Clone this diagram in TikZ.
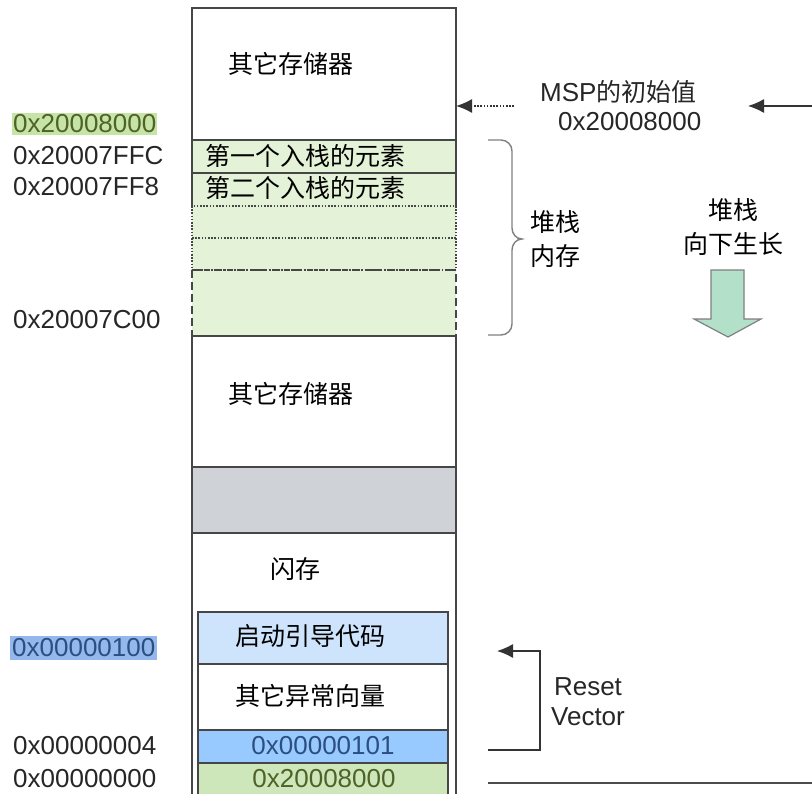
\documentclass[tikz,border=0pt]{standalone}
\usepackage{fontspec}
\setmainfont{Liberation Sans}
\newfontfamily\cjk{Noto Sans CJK SC}
\usetikzlibrary{positioning,arrows.meta}
\definecolor{stackgreen}{RGB}{228,242,215}
\definecolor{valgreen}{RGB}{206,231,186}
\definecolor{markgreen}{RGB}{198,228,166}
\definecolor{bootblue}{RGB}{205,228,252}
\definecolor{vecblue}{RGB}{153,202,255}
\definecolor{markblue}{RGB}{148,184,236}
\definecolor{gapgray}{RGB}{207,211,215}
\definecolor{growgreen}{RGB}{179,224,200}
\definecolor{lineg}{RGB}{70,70,70}
\definecolor{olive}{RGB}{79,98,40}
\definecolor{navy}{RGB}{43,79,128}
\tikzset{
  cell/.style={draw=lineg, line width=1.2pt, inner sep=0pt, outer sep=0pt, anchor=north west},
  stackcell/.style={fill=stackgreen, inner sep=0pt, outer sep=0pt, anchor=north west, minimum width=264pt},
  txt/.style={font=\fontsize{25}{34}\selectfont\cjk, inner sep=0pt, anchor=west},
  addr/.style={font=\fontsize{26}{30}\selectfont, inner sep=0pt, anchor=west, text=black!85},
  edgeline/.style={draw=lineg, line width=1.2pt},
  dots/.style={dash pattern=on 1.6pt off 1.6pt},
  tip/.style={-{Latex[length=16pt,width=14pt]}},
}
\begin{document}
\begin{tikzpicture}[x=1pt,y=-1pt]
\useasboundingbox (0,0) rectangle (812,794);
% memory column
\node[cell, minimum width=264pt, minimum height=132pt] (ram) at (192,8) {};
\node[stackcell, minimum height=33pt] (e1) at (192,140) {};
\node[stackcell, minimum height=33pt] (e2) at (192,173) {};
\node[stackcell, minimum height=32pt] (e3) at (192,206) {};
\node[stackcell, minimum height=32pt] (e4) at (192,238) {};
\node[stackcell, minimum height=66pt] (e5) at (192,270) {};
\draw[edgeline] (e2.south west) -- (e1.north west) -- (e1.north east) -- (e2.south east);
\draw[edgeline] (e1.south west) -- (e1.south east);
\draw[edgeline, dots] (e3.north west) rectangle (e4.south east);
\draw[edgeline, dots] (e3.south west) -- (e3.south east);
\draw[edgeline, line width=1.5pt, dash pattern=on 6pt off 2pt on 1.5pt off 2pt] (e5.north west) -- (e5.north east);
\draw[edgeline, line width=1.5pt, dash pattern=on 8pt off 4pt] (e5.north west) -- (e5.south west) -- (e5.south east) -- (e5.north east);
\node[cell, minimum width=264pt, minimum height=131pt] (ram2) at (192,336) {};
\node[cell, fill=gapgray, minimum width=264pt, minimum height=66pt] (gap) at (192,467) {};
\node[cell, minimum width=264pt, minimum height=300pt] (flash) at (192,533) {};
\node[cell, fill=bootblue, minimum width=250pt, minimum height=52pt] (boot) at (198,612) {};
\node[cell, minimum width=250pt, minimum height=66pt] (vect) at (198,664) {};
\node[cell, fill=vecblue, minimum width=250pt, minimum height=33pt] (rst) at (198,730) {};
\node[cell, fill=valgreen, minimum width=250pt, minimum height=60pt] (msp0) at (198,763) {};
% texts in the column
\node[txt] (ramtxt) at (228,64) {其它存储器};
\node[txt] (e1txt) at (205,156) {第一个入栈的元素};
\node[txt] (e2txt) at (205,188) {第二个入栈的元素};
\node[txt] (ram2txt) at (228,394) {其它存储器};
\node[txt] (flashtxt) at (270,569) {闪存};
\node[txt] (boottxt) at (235,636) {启动引导代码};
\node[txt] (vecttxt) at (235,696) {其它异常向量};
\node[addr, anchor=center, text=navy] (rsttxt) at (323,746) {0x00000101};
\node[addr, anchor=center, text=olive] (msp0txt) at (324,779) {0x20008000};
% addresses
\node[addr, fill=markgreen, text=olive, inner xsep=1pt, inner ysep=2pt] (a1) at (12,124) {0x20008000};
\node[addr] (a2) at (13,156) {0x20007FFC};
\node[addr] (a3) at (13,187) {0x20007FF8};
\node[addr] (a4) at (13,320) {0x20007C00};
\node[addr, fill=markblue, text=navy, inner xsep=2pt, inner ysep=3pt] (a5) at (10,648) {0x00000100};
\node[addr] (a6) at (13,746) {0x00000004};
\node[addr] (a7) at (13,779) {0x00000000};
% initial MSP
\node[addr] (msptxt) at (540,92) {MSP{\cjk\fontsize{25}{30}\selectfont 的初始值}};
\node[addr] (mspval) at (558,122) {0x20008000};
\coordinate (mspin) at (514,106);
\draw[tip, line width=1.3pt, dots, black!80] (mspin) -- (ram.east |- mspin);
\coordinate (mspfrom) at (812,106);
\coordinate (mspto) at (748,106);
\draw[tip, line width=1.2pt, black!80] (mspfrom) -- (mspto);
% stack
\draw[line width=1.4pt, gray] (488,140) -- (501,140) to[out=0,in=90] (512,151) -- (512,228)
  to[out=-90,in=180] (522,239) to[out=180,in=90] (512,250) -- (512,324)
  to[out=-90,in=0] (501,335) -- (488,335);
\node[txt, anchor=center, align=center] (stacktxt) at (555,239) {堆栈\\内存};
\node[txt, anchor=center, align=center] (growtxt) at (733,227) {堆栈\\向下生长};
\draw[fill=growgreen, draw=gray, line width=1.2pt] (711,270) -- (744,270) -- (744,319) -- (761,319)
  -- (728,337) -- (694,319) -- (711,319) -- cycle;
% reset vector
\coordinate (rvfrom) at (488,750);
\coordinate (rvto) at (497,651);
\draw[tip, line width=1.2pt, black!80] (rvfrom) -- ++(52,0) |- (rvto);
\node[addr, anchor=center, align=center] (rvtxt) at (588,702) {Reset\\Vector};
\coordinate (spfrom) at (488,783);
\coordinate (spto) at (812,783);
\draw[line width=1.2pt, black!70] (spfrom) -- (spto);
\end{tikzpicture}
\end{document}
